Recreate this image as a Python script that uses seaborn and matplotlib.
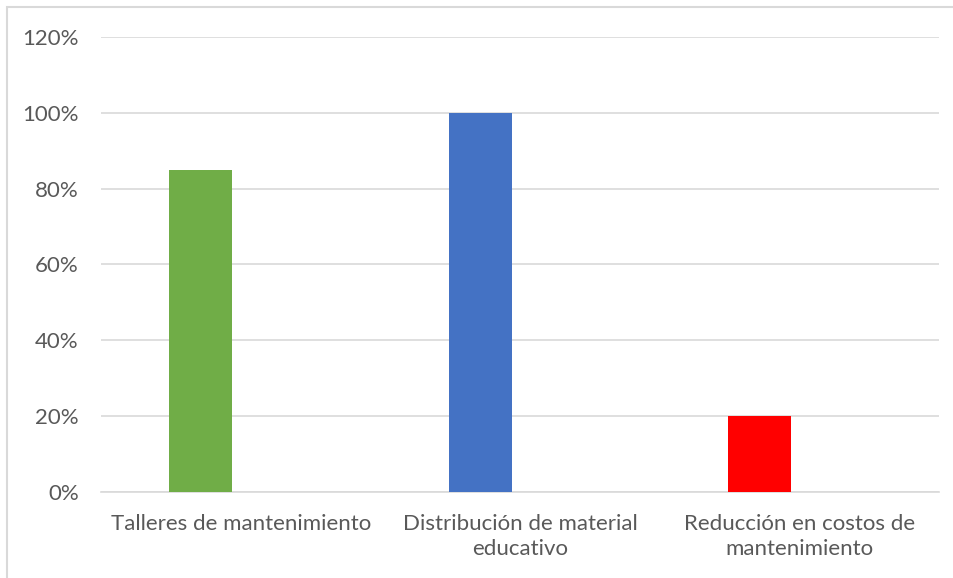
import matplotlib
matplotlib.use("Agg")
import matplotlib.pyplot as plt
from matplotlib.patches import Rectangle
from matplotlib.ticker import PercentFormatter
import pandas as pd
import seaborn as sns

# Chart data
categories = [
    "Talleres de mantenimiento",
    "Distribución de material\neducativo",
    "Reducción en costos de\nmantenimiento",
]
values = [0.85, 1.00, 0.20]
bar_colors = ["#70AD47", "#4472C4", "#FF0000"]
series = ["Serie 1", "Serie 1", "Serie 1"]
series_order = ["Serie 1", "Serie 2"]
y_ticks = [0.0, 0.2, 0.4, 0.6, 0.8, 1.0, 1.2]

df = pd.DataFrame({"categoria": categories, "valor": values, "serie": series})

sns.set_theme(style="white")
plt.rcParams["font.family"] = ["Lato", "DejaVu Sans"]

text_gray = "#595959"
grid_gray = "#D9D9D9"

fig = plt.figure(figsize=(9.54, 5.78), dpi=100)
ax = fig.add_axes([0.1059, 0.1488, 0.8784, 0.7872])

sns.barplot(
    data=df, x="categoria", y="valor", hue="serie", hue_order=series_order,
    order=categories, dodge=True, width=0.572, gap=0.21,
    palette=["#70AD47", "#4472C4"], legend=False, ax=ax, zorder=3,
)
for patch, color in zip(ax.patches, bar_colors):
    patch.set_facecolor(color)
    patch.set_edgecolor("none")

ax.set_ylim(0, 1.2)
ax.set_yticks(y_ticks)
ax.yaxis.set_major_formatter(PercentFormatter(xmax=1, decimals=0))
ax.grid(axis="y", color=grid_gray, linewidth=1.2, zorder=0)
ax.set_axisbelow(True)

for side in ["top", "right", "left"]:
    ax.spines[side].set_visible(False)
ax.spines["bottom"].set_color(grid_gray)
ax.spines["bottom"].set_linewidth(1.2)

ax.set_xlabel("")
ax.set_ylabel("")
ax.tick_params(axis="both", length=0, colors=text_gray, labelsize=16)
ax.tick_params(axis="x", pad=16)
ax.tick_params(axis="y", pad=16)
for lbl in ax.get_xticklabels():
    lbl.set_horizontalalignment("center")
    lbl.set_linespacing(1.3)

# Chart-area frame (top and left edges visible)
fig.patches.append(Rectangle(
    (7 / 954, -0.1), 1.2, 1.1 - 7 / 578, transform=fig.transFigure,
    fill=False, edgecolor=grid_gray, linewidth=1.5, zorder=0,
))

fig.savefig("out.png", dpi=100, facecolor="white")
